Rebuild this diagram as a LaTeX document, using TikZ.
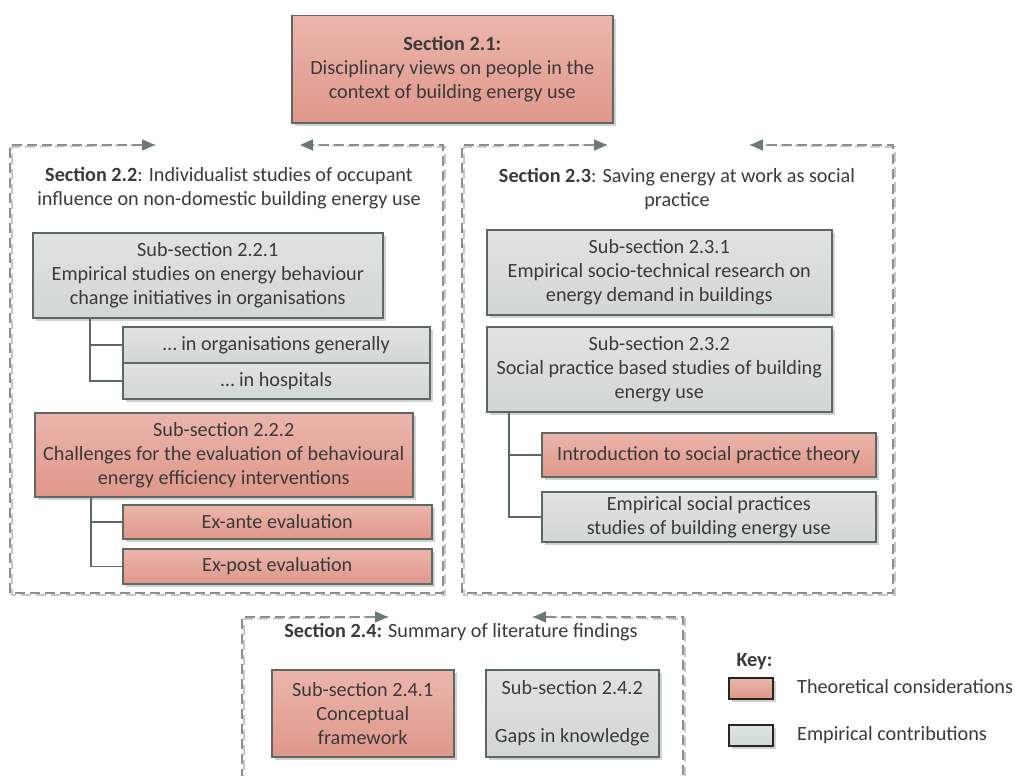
\documentclass[tikz,border=0pt]{standalone}
\usepackage{fontspec}
\setmainfont{Carlito}
\usetikzlibrary{calc,positioning,arrows.meta,shadows}

\definecolor{pinktop}{HTML}{EBB5AC}
\definecolor{pinkbot}{HTML}{DF978A}
\definecolor{graytop}{HTML}{E0E4E1}
\definecolor{graybot}{HTML}{D1D7D4}
\definecolor{boxline}{HTML}{5C6963}
\definecolor{dashgray}{HTML}{8A908C}
\definecolor{dashshadow}{HTML}{C4C8C6}
\definecolor{tipgray}{HTML}{6E7A74}
\definecolor{txt}{HTML}{3A3A3A}

\begin{document}
\begin{tikzpicture}[x=1pt,y=-1pt,
  every node/.style={font=\fontsize{20.2}{24}\selectfont,text=txt},
  box/.style={draw=boxline,line width=1.5pt,rectangle,anchor=north west,
    align=center,inner sep=0pt,
    drop shadow={shadow xshift=3pt,shadow yshift=-3pt,fill=black!40,opacity=.45}},
  theo/.style={box,top color=pinktop,bottom color=pinkbot},
  emp/.style={box,top color=graytop,bottom color=graybot},
  keybox/.style={draw=black!85,line width=1.6pt},
  frame/.style={draw=dashgray,line width=1.9pt,dash pattern=on 10pt off 5pt,
    >={Triangle[length=13pt,width=11pt,color=tipgray]}},
  frameshadow/.style={draw=dashshadow,line width=1.8pt,dash pattern=on 10pt off 5pt,
    xshift=2pt,yshift=-2pt},
  conn/.style={draw=boxline,line width=1.5pt}]

  \useasboundingbox (0,0) rectangle (1015,776);

  % frames round the sections
  \coordinate (f22a) at (155,145);
  \coordinate (f22b) at (300,145);
  \coordinate (f23a) at (607,145);
  \coordinate (f23b) at (750,145);
  \coordinate (f24a) at (388,617);
  \coordinate (f24b) at (533,617);

  \draw[frameshadow] (f22a) -- (10,145) -- (10,593) -- (443,593) -- (443,145) -- (f22b);
  \draw[frameshadow] (f23a) -- (462,145) -- (462,593) -- (893,593) -- (893,145) -- (f23b);
  \draw[frameshadow] (f24a) -- (242,617) -- (242,776);
  \draw[frameshadow] (f24b) -- (683,617) -- (683,776);

  \draw[frame,<->] (f22a) -- (10,145) -- (10,593) -- (443,593) -- (443,145) -- (f22b);
  \draw[frame,<->] (f23a) -- (462,145) -- (462,593) -- (893,593) -- (893,145) -- (f23b);
  \draw[frame,<-] (f24a) -- (242,617) -- (242,776);
  \draw[frame,<-] (f24b) -- (683,617) -- (683,776);

  % section 2.1
  \node[theo,minimum width=321,minimum height=107] at (291,15) (s21)
    {\textbf{Section 2.1:}\\Disciplinary views on people in the\\context of building energy use};

  % section 2.2
  \node[align=center] at (229,188) (s22)
    {\textbf{Section 2.2}: Individualist studies of occupant\\influence on non-domestic building energy use};

  \node[emp,minimum width=350,minimum height=85] at (32,232) (s221)
    {Sub-section 2.2.1\\Empirical studies on energy behaviour\\change initiatives in organisations};
  \node[emp,minimum width=307,minimum height=36] at (122,326) (gen) {\dots\ in organisations generally};
  \node[emp,minimum width=307,minimum height=36] at (122,362) (hosp) {\dots\ in hospitals};

  \node[theo,minimum width=378,minimum height=84] at (34,412) (s222)
    {Sub-section 2.2.2\\Challenges for the evaluation of behavioural\\energy efficiency interventions};
  \node[theo,minimum width=309,minimum height=34] at (122,504) (exante) {Ex-ante evaluation};
  \node[theo,minimum width=309,minimum height=35] at (122,548) (expost) {Ex-post evaluation};

  \draw[conn] ([xshift=58pt]s221.south west) |- (gen.west);
  \draw[conn] ([xshift=58pt]s221.south west) |- (hosp.west);
  \draw[conn] ([xshift=57pt]s222.south west) |- (exante.west);
  \draw[conn] ([xshift=57pt]s222.south west) |- (expost.west);

  % section 2.3
  \node[align=center] at (677,189) (s23)
    {\textbf{Section 2.3}: Saving energy at work as social\\practice};

  \node[emp,minimum width=345,minimum height=85] at (486,229) (s231)
    {Sub-section 2.3.1\\Empirical socio-technical research on\\energy demand in buildings};
  \node[emp,minimum width=345,minimum height=85] at (486,326) (s232)
    {Sub-section 2.3.2\\Social practice based studies of building\\energy use};
  \node[theo,minimum width=334,minimum height=44] at (541,432) (intro) {Introduction to social practice theory};
  \node[emp,minimum width=334,minimum height=50] at (541,491) (empsoc)
    {Empirical social practices\\studies of building energy use};

  \draw[conn] ([xshift=23pt]s232.south west) |- (intro.west);
  \draw[conn] ([xshift=23pt]s232.south west) |- (empsoc.west);

  % section 2.4
  \node at (461,632) (s24) {\textbf{Section 2.4:} Summary of literature findings};

  \node[theo,minimum width=182,minimum height=87] at (271,669) (s241)
    {Sub-section 2.4.1\\Conceptual\\framework};
  \node[emp,minimum width=173,minimum height=87] at (485,669) (s242)
    {Sub-section 2.4.2\\[24pt]Gaps in knowledge};

  % key
  \node[anchor=west] at (733,662) (key) {\textbf{Key:}};
  \node[theo,keybox,minimum width=44,minimum height=21] at (728,677) (keyT) {};
  \node[emp,keybox,minimum width=44,minimum height=21] at (728,724) (keyE) {};
  \node[anchor=west,inner sep=0pt] at (797,687) (keyTtxt) {Theoretical considerations};
  \node[anchor=west,inner sep=0pt] at (797,735) (keyEtxt) {Empirical contributions};
\end{tikzpicture}
\end{document}
